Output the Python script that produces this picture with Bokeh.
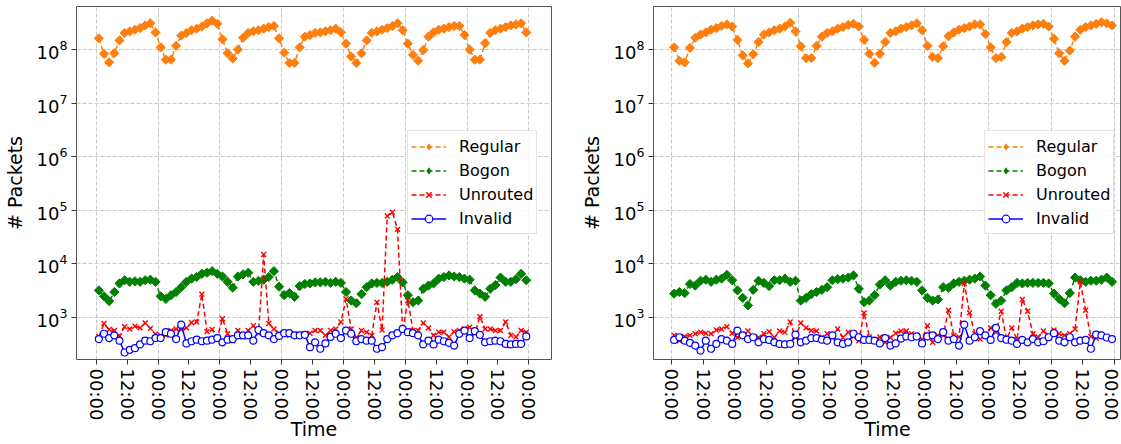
import math
from bokeh.plotting import figure
from bokeh.models import FixedTicker, Range1d, Legend, LegendItem
from bokeh.layouts import row
from bokeh.embed import file_html
from bokeh.resources import INLINE

# ---------------- data ----------------
# samples every 2 hours over 7 days (hour offsets from the first midnight)
hours = list(range(1, 168, 2))
tick_hours = list(range(0, 169, 12))
tick_labels = ["00:00", "12:00"] * 7 + ["00:00"]
day_hours = list(range(0, 169, 24))
series_names = ["Regular", "Bogon", "Unrouted", "Invalid"]

# values below are log10(# packets)
left_regular = [
    8.21, 7.92, 7.76, 7.93, 8.17, 8.31, 8.34, 8.37, 8.40, 8.45, 8.49, 8.32,
    8.04, 7.81, 7.81, 8.07, 8.26, 8.31, 8.36, 8.39, 8.43, 8.49, 8.54, 8.48,
    8.19, 7.93, 7.83, 8.00, 8.22, 8.31, 8.34, 8.36, 8.39, 8.42, 8.44, 8.21,
    7.94, 7.75, 7.75, 8.04, 8.24, 8.27, 8.31, 8.32, 8.34, 8.36, 8.39, 8.32,
    8.11, 7.87, 7.75, 7.93, 8.17, 8.31, 8.34, 8.37, 8.40, 8.44, 8.49, 8.36,
    8.11, 7.90, 7.79, 7.99, 8.24, 8.32, 8.37, 8.39, 8.42, 8.44, 8.44, 8.27,
    8.00, 7.81, 7.81, 8.12, 8.31, 8.36, 8.39, 8.42, 8.45, 8.47, 8.49, 8.32]
left_bogon = [
    3.50, 3.39, 3.30, 3.47, 3.63, 3.69, 3.66, 3.67, 3.66, 3.69, 3.70, 3.66,
    3.39, 3.34, 3.41, 3.47, 3.56, 3.66, 3.72, 3.75, 3.81, 3.83, 3.86, 3.81,
    3.76, 3.66, 3.55, 3.76, 3.80, 3.83, 3.66, 3.68, 3.70, 3.75, 3.86, 3.57,
    3.41, 3.45, 3.38, 3.58, 3.62, 3.63, 3.65, 3.65, 3.66, 3.64, 3.66, 3.64,
    3.47, 3.31, 3.26, 3.43, 3.56, 3.63, 3.64, 3.64, 3.66, 3.70, 3.75, 3.65,
    3.41, 3.28, 3.31, 3.53, 3.59, 3.63, 3.72, 3.75, 3.78, 3.76, 3.75, 3.72,
    3.70, 3.50, 3.44, 3.38, 3.53, 3.60, 3.74, 3.66, 3.66, 3.71, 3.81, 3.69]
left_unrouted = [
    2.64, 2.88, 2.77, 2.75, 2.65, 2.82, 2.78, 2.83, 2.80, 2.89, 2.79, 2.68,
    2.66, 2.66, 2.75, 2.78, 2.77, 2.80, 2.90, 2.91, 3.43, 2.73, 2.77, 2.62,
    2.97, 2.69, 2.56, 2.75, 2.63, 2.75, 2.84, 2.70, 4.17, 2.88, 2.78, 2.70,
    2.69, 2.66, 2.69, 2.66, 2.69, 2.70, 2.75, 2.75, 2.66, 2.75, 2.78, 2.91,
    3.34, 2.78, 2.62, 2.75, 2.72, 2.66, 3.28, 2.76, 4.89, 4.96, 4.64, 2.74,
    3.31, 2.75, 2.75, 2.89, 2.80, 2.66, 2.72, 2.72, 2.63, 2.73, 2.75, 2.78,
    2.81, 2.69, 3.01, 2.78, 2.78, 2.75, 2.75, 2.91, 2.66, 2.63, 2.75, 2.72]
left_invalid = [
    2.59, 2.69, 2.61, 2.66, 2.56, 2.34, 2.39, 2.42, 2.49, 2.56, 2.55, 2.61,
    2.61, 2.72, 2.69, 2.59, 2.86, 2.51, 2.55, 2.58, 2.55, 2.56, 2.58, 2.61,
    2.53, 2.58, 2.59, 2.66, 2.66, 2.66, 2.56, 2.76, 2.70, 2.66, 2.59, 2.65,
    2.70, 2.70, 2.66, 2.66, 2.67, 2.44, 2.53, 2.41, 2.51, 2.63, 2.69, 2.61,
    2.75, 2.69, 2.55, 2.59, 2.56, 2.56, 2.41, 2.44, 2.59, 2.66, 2.70, 2.78,
    2.72, 2.70, 2.66, 2.49, 2.56, 2.49, 2.58, 2.55, 2.52, 2.47, 2.69, 2.75,
    2.61, 2.74, 2.67, 2.53, 2.55, 2.56, 2.55, 2.50, 2.49, 2.50, 2.50, 2.64]

right_regular = [
    8.04, 7.79, 7.76, 8.03, 8.22, 8.28, 8.32, 8.37, 8.40, 8.44, 8.47, 8.43,
    8.18, 7.89, 7.74, 7.91, 8.14, 8.28, 8.32, 8.36, 8.39, 8.43, 8.50, 8.34,
    8.06, 7.84, 7.84, 8.07, 8.24, 8.31, 8.34, 8.39, 8.42, 8.46, 8.48, 8.43,
    8.18, 7.92, 7.75, 7.92, 8.14, 8.31, 8.34, 8.39, 8.42, 8.45, 8.49, 8.36,
    8.07, 7.86, 7.84, 8.06, 8.25, 8.32, 8.37, 8.40, 8.43, 8.47, 8.47, 8.29,
    8.04, 7.84, 7.86, 8.14, 8.31, 8.34, 8.39, 8.42, 8.45, 8.47, 8.48, 8.43,
    8.20, 7.93, 7.79, 7.98, 8.24, 8.37, 8.42, 8.45, 8.48, 8.51, 8.49, 8.45]
right_bogon = [
    3.44, 3.47, 3.45, 3.62, 3.59, 3.68, 3.70, 3.66, 3.70, 3.72, 3.79, 3.69,
    3.50, 3.36, 3.22, 3.51, 3.68, 3.64, 3.58, 3.69, 3.69, 3.72, 3.66, 3.68,
    3.31, 3.36, 3.43, 3.47, 3.51, 3.56, 3.69, 3.71, 3.72, 3.74, 3.78, 3.53,
    3.28, 3.31, 3.41, 3.61, 3.69, 3.59, 3.66, 3.68, 3.69, 3.68, 3.66, 3.50,
    3.36, 3.31, 3.33, 3.56, 3.55, 3.63, 3.66, 3.68, 3.70, 3.72, 3.76, 3.59,
    3.41, 3.25, 3.31, 3.50, 3.56, 3.64, 3.63, 3.64, 3.64, 3.64, 3.64, 3.63,
    3.44, 3.34, 3.26, 3.45, 3.74, 3.69, 3.66, 3.68, 3.68, 3.70, 3.74, 3.66]
right_unrouted = [
    2.66, 2.56, 2.64, 2.66, 2.69, 2.72, 2.70, 2.69, 2.76, 2.78, 2.82, 2.70,
    2.62, 2.66, 2.74, 2.62, 2.62, 2.69, 2.73, 2.62, 2.74, 2.72, 2.91, 2.62,
    2.89, 2.80, 2.75, 2.74, 2.62, 2.69, 2.62, 2.78, 2.62, 2.72, 2.64, 2.56,
    3.08, 2.63, 2.58, 2.63, 2.53, 2.62, 2.70, 2.74, 2.74, 2.69, 2.66, 2.59,
    2.84, 2.53, 2.66, 2.66, 3.13, 2.66, 2.63, 3.63, 3.08, 2.69, 2.59, 2.64,
    2.80, 2.72, 3.11, 2.59, 2.80, 2.58, 3.33, 3.11, 2.69, 2.63, 2.74, 2.66,
    2.76, 2.69, 2.66, 2.69, 2.78, 3.66, 3.13, 2.64, 2.61, 2.64, 2.62, 2.59]
right_invalid = [
    2.575, 2.625, 2.56, 2.52, 2.47, 2.375, 2.56, 2.41, 2.50, 2.59, 2.56, 2.50,
    2.75, 2.66, 2.59, 2.625, 2.53, 2.59, 2.575, 2.53, 2.50, 2.49, 2.50, 2.675,
    2.53, 2.56, 2.61, 2.61, 2.58, 2.56, 2.66, 2.53, 2.50, 2.53, 2.69, 2.625,
    2.575, 2.575, 2.56, 2.51, 2.61, 2.47, 2.51, 2.60, 2.64, 2.625, 2.64, 2.51,
    2.64, 2.66, 2.59, 2.72, 2.56, 2.59, 2.47, 2.86, 2.56, 2.625, 2.74, 2.66,
    2.575, 2.80, 2.61, 2.58, 2.56, 2.50, 2.575, 2.53, 2.59, 2.53, 2.55, 2.625,
    2.70, 2.56, 2.53, 2.625, 2.53, 2.56, 2.575, 2.41, 2.675, 2.66, 2.62, 2.59]

# ---------------- styling ----------------
FONT = "DejaVu Sans"
COLORS = {"Regular": "#ff7f0e", "Bogon": "#008000", "Unrouted": "#ff0000", "Invalid": "#0000ff"}
Y_LOG_MIN, Y_LOG_MAX = 2.209, 8.804


def make_panel(reg, bog, unr, inv, x_start, x_end, width, border_left, border_right):
    p = figure(width=width, height=444, y_axis_type="log",
               x_range=Range1d(x_start, x_end),
               y_range=Range1d(10 ** Y_LOG_MIN, 10 ** Y_LOG_MAX),
               output_backend="svg", toolbar_location=None,
               min_border_left=border_left, min_border_right=border_right,
               min_border_top=6, min_border_bottom=85)
    p.background_fill_color = "white"
    p.border_fill_color = "white"
    p.outline_line_color = "#555555"
    p.outline_line_width = 1

    # axes
    p.xaxis.ticker = FixedTicker(ticks=tick_hours, minor_ticks=[])
    p.xaxis.major_label_overrides = {h: lab for h, lab in zip(tick_hours, tick_labels)}
    p.xaxis.major_label_orientation = "vertical"
    p.xaxis.axis_label = "Time"
    p.yaxis.axis_label = "# Packets"
    for ax in (p.xaxis[0], p.yaxis[0]):
        ax.axis_line_color = None
        ax.major_tick_line_color = "#333333"
        ax.major_tick_out = 5
        ax.major_tick_in = 0
        ax.minor_tick_line_color = None
        ax.major_label_text_font = FONT
        ax.major_label_text_font_size = "18px"
        ax.major_label_text_color = "black"
        ax.axis_label_text_font = FONT
        ax.axis_label_text_font_size = "19px"
        ax.axis_label_text_font_style = "normal"
        ax.axis_label_text_color = "black"
    p.xaxis.major_label_standoff = 4
    p.xaxis.axis_label_standoff = -5
    p.xaxis.axis_label_text_line_height = 0.6
    p.yaxis.major_label_standoff = 4
    p.yaxis.axis_label_standoff = 8

    # grid
    p.xgrid.ticker = FixedTicker(ticks=day_hours)
    for g in (p.xgrid[0], p.ygrid[0]):
        g.grid_line_color = "#c8c8c8"
        g.grid_line_dash = "4 2"
        g.grid_line_width = 1
    p.ygrid.minor_grid_line_color = None

    vals = {"Regular": reg, "Bogon": bog, "Unrouted": unr, "Invalid": inv}
    items = []
    for name in series_names:
        c = COLORS[name]
        y = [10 ** v for v in vals[name]]
        if name == "Invalid":
            ln = p.line(hours, y, line_color=c, line_width=1.5)
            mk = p.scatter(hours, y, marker="circle", size=7, line_color=c,
                           fill_color="white", line_width=1.2)
            legend_marks = [ln, mk]
        elif name == "Unrouted":
            ln = p.line(hours, y, line_color=c, line_width=1.5, line_dash="5 3")
            mk = p.scatter(hours, y, marker="x", size=7, line_color=c, line_width=1.4)
            legend_marks = [ln, mk]
        else:
            ln = p.line(hours, y, line_color=c, line_width=1.5, line_dash="5 3")
            mk = p.scatter(hours, y, marker="square", angle=math.pi / 4, size=6.5,
                           line_color=c, fill_color=c)
            # zero-size diamond copy: invisible in the plot, gives the legend
            # an upright diamond symbol (legend glyphs ignore marker rotation)
            key = p.scatter(hours, y, marker="diamond", size=0,
                            line_color=None, fill_color=c)
            legend_marks = [ln, key]
        items.append(LegendItem(label=name, renderers=legend_marks))

    legend = Legend(items=items, location=(331, 125),
                    label_text_font=FONT, label_text_font_size="16px",
                    label_text_color="black",
                    glyph_width=35, glyph_height=19, label_height=24,
                    label_standoff=13, spacing=0, padding=3, margin=0,
                    border_line_color="#cccccc", border_line_width=1,
                    background_fill_color="white", background_fill_alpha=0.85)
    p.add_layout(legend)
    return p


p1 = make_panel(left_regular, left_bogon, left_unrouted, left_invalid,
                -7.69, 176.8, 560, 71, 9)
p2 = make_panel(right_regular, right_bogon, right_unrouted, right_invalid,
                -6.83, 170.6, 561, 93, 0)

layout = row(p1, p2, spacing=0)
open("out.html", "w").write(file_html(layout, INLINE))
